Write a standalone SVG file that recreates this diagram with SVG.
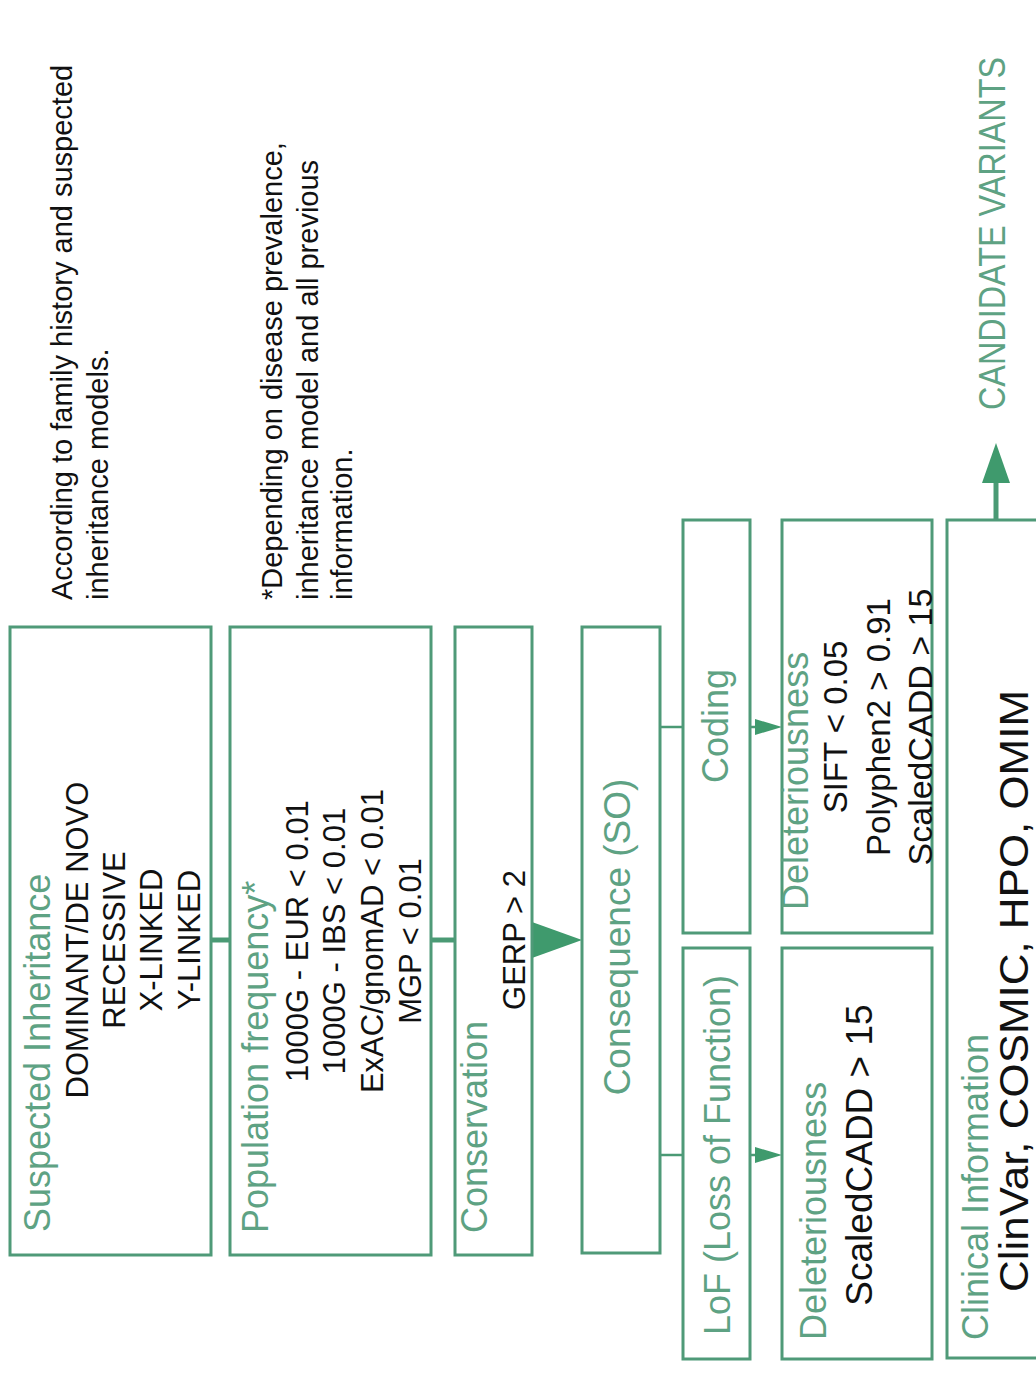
<svg xmlns="http://www.w3.org/2000/svg" width="1036" height="1373" viewBox="0 0 1036 1373">
<style>
.box{fill:#ffffff;stroke:#4f9a78;stroke-width:3}
.t{font-family:"Liberation Sans",Arial,sans-serif}
.g{fill:#5ea283}
.k{fill:#111111}
.m{text-anchor:middle}
.ln{stroke:#4a9a74;fill:none}
.ah{fill:#3f9a6d}
</style>
<rect width="1036" height="1373" fill="#ffffff"/>

<g id="notes" class="t k" font-size="29">
  <text transform="translate(72,600) rotate(-90)">According to family history and suspected</text>
  <text transform="translate(108,600) rotate(-90)">inheritance models.</text>
  <text transform="translate(282,600) rotate(-90)">*Depending on disease prevalence,</text>
  <text transform="translate(318,600) rotate(-90)">inheritance model and all previous</text>
  <text transform="translate(352,600) rotate(-90)">information.</text>
</g>

<g id="connectors">
  <line class="ln" x1="211" y1="940" x2="230" y2="940" stroke-width="5"/>
  <line class="ln" x1="431" y1="940" x2="455" y2="940" stroke-width="5"/>
  <polygon class="ah" points="532,922 582,940 532,958"/>
  <path class="ln" d="M660,727 H683" stroke-width="2.5"/>
  <path class="ln" d="M660,1155 H683" stroke-width="2.5"/>
  <path class="ln" d="M750,727 H757" stroke-width="2.5"/>
  <polygon class="ah" points="755,719 782,727 755,735"/>
  <path class="ln" d="M750,1155 H757" stroke-width="2.5"/>
  <polygon class="ah" points="755,1147 782,1155 755,1163"/>
  <line class="ln" x1="996" y1="520" x2="996" y2="480" stroke-width="5"/>
  <polygon class="ah" points="982,483 996,443 1010,483"/>
</g>

<g id="inheritance">
  <rect class="box" x="10" y="627" width="201" height="628"/>
  <text class="t g" font-size="36" transform="translate(50,1232) rotate(-90)">Suspected Inheritance</text>
  <g class="t k m" font-size="31">
    <text transform="translate(88,940) rotate(-90)">DOMINANT/DE NOVO</text>
    <text transform="translate(125,940) rotate(-90)">RECESSIVE</text>
    <text transform="translate(162,940) rotate(-90)">X-LINKED</text>
    <text transform="translate(200,940) rotate(-90)">Y-LINKED</text>
  </g>
</g>

<g id="population">
  <rect class="box" x="230" y="627" width="201" height="628"/>
  <text class="t g" font-size="36" transform="translate(268,1233) rotate(-90)">Population frequency*</text>
  <g class="t k m" font-size="31">
    <text transform="translate(308,941) rotate(-90)">1000G - EUR &lt; 0.01</text>
    <text transform="translate(345,941) rotate(-90)">1000G - IBS &lt; 0.01</text>
    <text transform="translate(383,941) rotate(-90)">ExAC/gnomAD &lt; 0.01</text>
    <text transform="translate(421,941) rotate(-90)">MGP &lt; 0.01</text>
  </g>
</g>

<g id="conservation">
  <rect class="box" x="455" y="627" width="77" height="628"/>
  <text class="t g" font-size="36" transform="translate(487,1233) rotate(-90)">Conservation</text>
  <text class="t k m" font-size="31" transform="translate(525,940) rotate(-90)">GERP &gt; 2</text>
</g>

<g id="consequence">
  <rect class="box" x="582" y="627" width="78" height="626"/>
  <text class="t g m" font-size="37" transform="translate(630,937) rotate(-90)">Consequence (SO)</text>
</g>

<g id="coding">
  <rect class="box" x="683" y="520" width="67" height="413"/>
  <text class="t g m" font-size="36" transform="translate(728,726) rotate(-90)">Coding</text>
</g>

<g id="lof">
  <rect class="box" x="683" y="948" width="67" height="411"/>
  <text class="t g m" font-size="36" transform="translate(730,1155) rotate(-90)">LoF (Loss of Function)</text>
</g>

<g id="deleteriousness-coding">
  <rect class="box" x="782" y="520" width="150" height="413"/>
  <text class="t g" font-size="36" transform="translate(808,910) rotate(-90)">Deleteriousness</text>
  <g class="t k m" font-size="33">
    <text transform="translate(847,727) rotate(-90)">SIFT &lt; 0.05</text>
    <text transform="translate(890,727) rotate(-90)">Polyphen2 &gt; 0.91</text>
    <text transform="translate(932,727) rotate(-90)" font-size="34">ScaledCADD &gt; 15</text>
  </g>
</g>

<g id="deleteriousness-lof">
  <rect class="box" x="782" y="948" width="150" height="411"/>
  <text class="t g" font-size="36" transform="translate(826,1340) rotate(-90)">Deleteriousness</text>
  <text class="t k m" font-size="37" transform="translate(872,1155) rotate(-90)">ScaledCADD &gt; 15</text>
</g>

<g id="clinical">
  <rect class="box" x="947" y="520" width="110" height="838"/>
  <text class="t g" font-size="36" transform="translate(988,1340) rotate(-90)">Clinical Information</text>
  <text class="t k" font-size="40" textLength="602" lengthAdjust="spacingAndGlyphs" transform="translate(1028,1292) rotate(-90)">ClinVar, COSMIC, HPO, OMIM</text>
</g>

<g id="candidate">
  <text class="t g" font-size="36" textLength="353" lengthAdjust="spacingAndGlyphs" transform="translate(1005,410) rotate(-90)">CANDIDATE VARIANTS</text>
</g>
</svg>
